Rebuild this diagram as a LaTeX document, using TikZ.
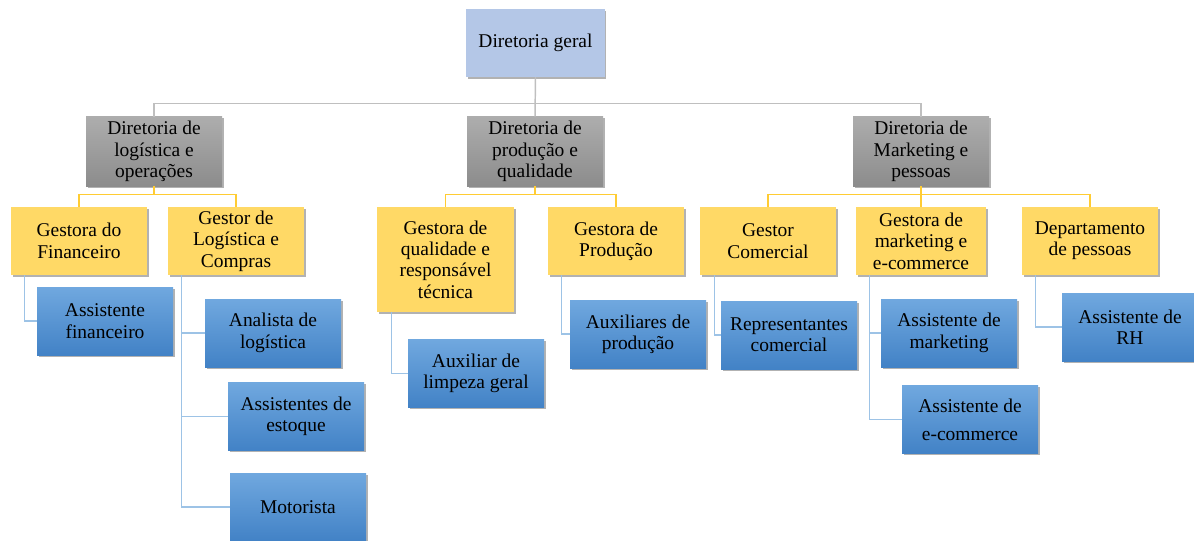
\documentclass[tikz,border=0pt]{standalone}
\usepackage{fontspec}
\setmainfont{LiberationSerif}[Extension=.ttf, UprightFont=*-Regular, BoldFont=*-Bold, ItalicFont=*-Italic, BoldItalicFont=*-BoldItalic]
\usetikzlibrary{shadows,calc}
\definecolor{geralblue}{HTML}{B4C7E7}
\definecolor{dirtop}{HTML}{ADADAD}
\definecolor{dirbot}{HTML}{8C8C8C}
\definecolor{gestyellow}{HTML}{FFD966}
\definecolor{bluetop}{HTML}{70A8DF}
\definecolor{bluebot}{HTML}{4282C6}
\definecolor{grayline}{HTML}{BFBFBF}
\definecolor{yellowline}{HTML}{FFCC33}
\definecolor{blueline}{HTML}{9DC3E6}
\begin{document}
\begin{tikzpicture}[x=0.75pt,y=-0.75pt,
  box/.style={inner sep=0pt, align=center, text=black,
    font=\rmfamily\fontsize{14.6pt}{16pt}\selectfont,
    minimum width=102pt, minimum height=51pt,
    drop shadow={shadow xshift=1.2pt, shadow yshift=-1.2pt, opacity=0.3, fill=black}},
  geralbox/.style={box, fill=geralblue},
  dirbox/.style={box, top color=dirtop, bottom color=dirbot},
  gestbox/.style={box, fill=gestyellow},
  asbox/.style={box, top color=bluetop, bottom color=bluebot},
  gline/.style={draw=grayline, line width=1.1pt},
  yline/.style={draw=yellowline, line width=1.1pt},
  bline/.style={draw=blueline, line width=1.1pt}]
\useasboundingbox (0,0) rectangle (1194,540);

% top
\node[geralbox, minimum width=104pt] (geral) at (535.5,43) {Diretoria geral};

% directors
\node[dirbox, minimum height=52pt] (dlog) at (154,151.5) {Diretoria de\\logística e\\operações};
\node[dirbox, minimum height=52pt] (dprod) at (535,151.5) {Diretoria de\\produção e\\qualidade};
\node[dirbox, minimum height=52pt] (dmkt) at (921,151.5) {Diretoria de\\Marketing e\\pessoas};

% managers
\node[gestbox] (gfin) at (79,241) {Gestora do\\Financeiro};
\node[gestbox] (glog) at (236,241) {Gestor de\\Logística e\\Compras};
\node[gestbox, minimum width=102.75pt, minimum height=78.75pt] (gqual) at (445.5,259.5) {Gestora de\\qualidade e\\responsável\\técnica};
\node[gestbox] (gprod) at (616,241) {Gestora de\\Produção};
\node[gestbox] (gcom) at (768,241) {Gestor\\Comercial};
\node[gestbox, minimum width=97.5pt] (gmkt) at (921,241) {Gestora de\\marketing e\\e-commerce};
\node[gestbox] (gpes) at (1090,241) {Departamento\\de pessoas};

% assistants
\node[asbox] (afin) at (105,321) {Assistente\\financeiro};
\node[asbox] (alog) at (273,333) {Analista de\\logística};
\node[asbox] (aest) at (296,416.5) {Assistentes de\\estoque};
\node[asbox] (moto) at (298,507) {Motorista};
\node[asbox] (alimp) at (476,373.5) {Auxiliar de\\limpeza geral};
\node[asbox] (aprod) at (638,334) {Auxiliares de\\produção};
\node[asbox] (rcom) at (789,335) {Representantes\\comercial};
\node[asbox] (amkt) at (949,333) {Assistente de\\marketing};
\node[asbox] (aecom) at (970,419.5) {Assistente de\\[5pt]e-commerce};
\node[asbox] (arh) at (1130,327) {Assistente de\\RH};

% gray connectors
\draw[gline] (geral.south) -- ++(0,26) -| (dlog.north);
\draw[gline] (geral.south) -- ++(0,26) -| (dmkt.north);
\draw[gline] (geral.south) -- (dprod.north);

% yellow connectors
\draw[yline] (dlog.south) -- ++(0,8) -| (gfin.north);
\draw[yline] (dlog.south) -- ++(0,8) -| (glog.north);
\draw[yline] (dprod.south) -- ++(0,8) -| (gqual.north);
\draw[yline] (dprod.south) -- ++(0,8) -| (gprod.north);
\draw[yline] (dmkt.south) -- ++(0,8) -| (gcom.north);
\draw[yline] (dmkt.south) -- ++(0,8) -| (gpes.north);
\draw[yline] (dmkt.south) -- (gmkt.north);

% blue connectors
\draw[bline] ($(gfin.south west)+(14,0)$) |- (afin.west);
\draw[bline] ($(glog.south west)+(14,0)$) |- (alog.west);
\draw[bline] ($(glog.south west)+(14,0)$) |- (aest.west);
\draw[bline] ($(glog.south west)+(14,0)$) |- (moto.west);
\draw[bline] ($(gqual.south west)+(15,0)$) |- (alimp.west);
\draw[bline] ($(gprod.south west)+(14,0)$) |- (aprod.west);
\draw[bline] ($(gcom.south west)+(15,0)$) |- (rcom.west);
\draw[bline] ($(gmkt.south west)+(14,0)$) |- (amkt.west);
\draw[bline] ($(gmkt.south west)+(14,0)$) |- (aecom.west);
\draw[bline] ($(gpes.south west)+(14,0)$) |- (arh.west);
\end{tikzpicture}
\end{document}
